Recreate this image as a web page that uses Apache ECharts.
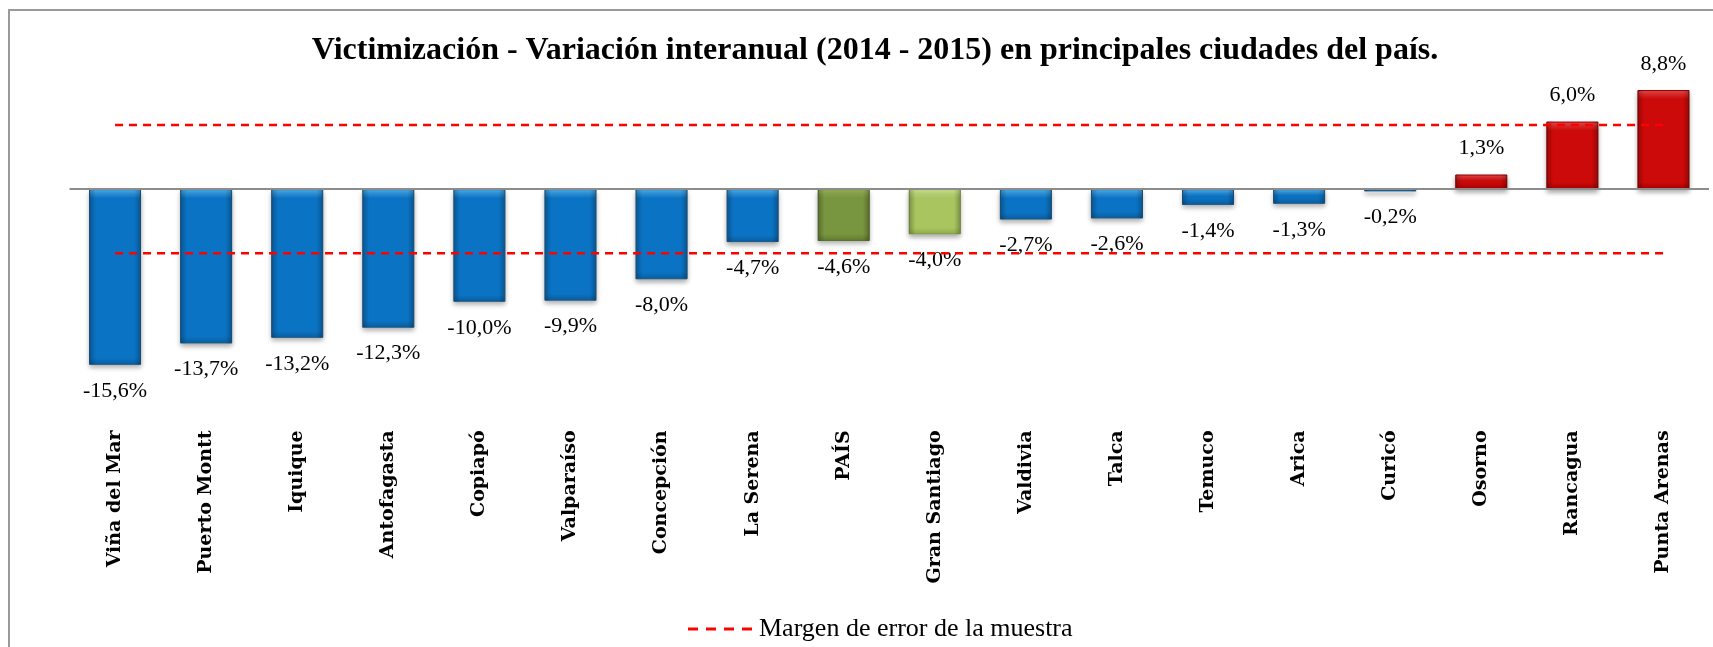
<!DOCTYPE html>
<html>
<head>
<meta charset="utf-8">
<script src="https://cdn.jsdelivr.net/npm/echarts@6/dist/echarts.min.js"></script>
<style>
  html, body { margin: 0; padding: 0; background: #fff; }
  #chart { width: 1713px; height: 647px; }
</style>
</head>
<body>
<div id="chart"></div>
<script>
// Victimización - variación interanual 2014-2015 por ciudad
const ciudades = ['Viña del Mar', 'Puerto Montt', 'Iquique', 'Antofagasta', 'Copiapó', 'Valparaíso',
  'Concepción', 'La Serena', 'PAÍS', 'Gran Santiago', 'Valdivia', 'Talca', 'Temuco', 'Arica',
  'Curicó', 'Osorno', 'Rancagua', 'Punta Arenas'];
const variacion = [-15.6, -13.7, -13.2, -12.3, -10.0, -9.9, -8.0, -4.7, -4.6, -4.0, -2.7, -2.6,
  -1.4, -1.3, -0.2, 1.3, 6.0, 8.8];
const margenSup = [5.7, 5.7, 5.7, 5.7, 5.7, 5.7, 5.7, 5.7, 5.7, 5.7, 5.7, 5.7, 5.7, 5.7, 5.7, 5.7, 5.7, 5.7];
const margenInf = [-5.7, -5.7, -5.7, -5.7, -5.7, -5.7, -5.7, -5.7, -5.7, -5.7, -5.7, -5.7, -5.7, -5.7, -5.7, -5.7, -5.7, -5.7];

const FONT = 'Liberation Serif';
const FONT_ANCHA = 'DejaVu Serif';
const PX_PER_UNIT = 11.27; // aprox. para el bisel

// colores (claro arriba, cuerpo, oscuro abajo, borde)
const paleta = {
  azul: ['#52b6f4', '#0b73c4', '#0a5e9e', '#1d5d8c'],
  verde: ['#9dbb5a', '#78953f', '#627c31', '#5a7230'],
  verdeClaro: ['#d2ea97', '#a8c55f', '#93af4c', '#87a040'],
  rojo: ['#f24a4a', '#cc0a0a', '#a80000', '#8a0000']
};

function colorDe(nombre, v) {
  if (nombre === 'PAÍS') return paleta.verde;
  if (nombre === 'Gran Santiago') return paleta.verdeClaro;
  return v > 0 ? paleta.rojo : paleta.azul;
}

const barras = variacion.map((v, i) => {
  const c = colorDe(ciudades[i], v);
  const h = Math.max(Math.abs(v) * PX_PER_UNIT, 1);
  const a = Math.min(9 / h, 0.45);
  const b = Math.max(1 - 7 / h, 0.55);
  return {
    value: v,
    itemStyle: {
      color: new echarts.graphic.LinearGradient(0, 0, 0, 1, [
        { offset: 0, color: c[0] },
        { offset: a, color: c[1] },
        { offset: b, color: c[1] },
        { offset: 1, color: c[2] }
      ]),
      borderColor: c[3]
    },
    label: { position: v < 0 ? 'bottom' : 'top' }
  };
});

const lineaMargen = {
  type: 'line',
  name: 'Margen de error de la muestra',
  symbol: 'none',
  silent: true,
  color: '#ff0000',
  lineStyle: { color: '#ff0000', width: 2.5, type: [8, 6] },
  z: 5
};

var myChart = echarts.init(document.getElementById('chart'));
const option = {
  animation: false,
  textStyle: { fontFamily: FONT },
  title: {
    text: 'Victimización - Variación interanual (2014 - 2015) en principales ciudades del país.',
    left: 870,
    textAlign: 'center',
    top: 30,
    textStyle: { fontFamily: FONT, fontWeight: 'bold', fontSize: 32, color: '#000' }
  },
  graphic: [{
    type: 'rect',
    shape: { x: 9, y: 10, width: 1800, height: 1000 },
    style: { fill: 'none', stroke: '#9a9a9a', lineWidth: 2 },
    silent: true
  }],
  legend: {
    data: [{
      name: 'Margen de error de la muestra',
      icon: 'path://M0,0h10v3h-10z M18,0h10v3h-10z M36,0h10v3h-10z M54,0h10v3h-10z'
    }],
    bottom: 0,
    left: 683,
    itemWidth: 64,
    itemHeight: 3,
    itemGap: 10,
    itemStyle: { color: '#ff0000' },
    textStyle: { fontFamily: FONT, fontSize: 26, color: '#000', padding: [0, 0, 0, 2] }
  },
  grid: {
    left: 69.5,
    right: 4,
    top: 54,
    bottom: 232.6,
    outerBoundsMode: 'none'
  },
  xAxis: {
    type: 'category',
    data: ciudades,
    axisLine: { show: false, onZero: false },
    axisTick: { show: false },
    axisLabel: {
      rotate: 90,
      margin: 16,
      interval: 0,
      fontFamily: FONT_ANCHA,
      fontWeight: 'bold',
      fontSize: 19,
      color: '#000'
    }
  },
  yAxis: {
    type: 'value',
    min: -20,
    max: 12,
    show: false,
    splitLine: { show: false }
  },
  series: [
    {
      type: 'bar',
      name: 'Variación',
      data: barras,
      barWidth: 52,
      itemStyle: {
        borderWidth: 1,
        shadowColor: 'rgba(0,0,0,0.35)',
        shadowBlur: 5,
        shadowOffsetY: 3
      },
      label: {
        show: true,
        distance: 15,
        fontFamily: FONT,
        fontSize: 22,
        color: '#000',
        formatter: p => p.value.toFixed(1).replace('.', ',') + '%'
      },
      markLine: {
        silent: true,
        symbol: 'none',
        label: { show: false },
        lineStyle: { color: '#8c8c8c', width: 2, type: 'solid' },
        data: [{ yAxis: 0 }]
      },
      z: 2
    },
    {
      // bisel lateral
      type: 'bar',
      name: 'bisel',
      data: variacion,
      barWidth: 52,
      barGap: '-100%',
      silent: true,
      itemStyle: {
        color: new echarts.graphic.LinearGradient(0, 0, 1, 0, [
          { offset: 0, color: 'rgba(0,0,0,0.22)' },
          { offset: 0.13, color: 'rgba(0,0,0,0)' },
          { offset: 0.87, color: 'rgba(0,0,0,0)' },
          { offset: 1, color: 'rgba(0,0,0,0.22)' }
        ])
      },
      z: 3
    },
    Object.assign({ data: margenSup }, lineaMargen),
    Object.assign({ data: margenInf }, lineaMargen)
  ]
};
option && myChart.setOption(option);
window.onresize = () => {
  myChart.resize();
};
</script>
</body>
</html>
